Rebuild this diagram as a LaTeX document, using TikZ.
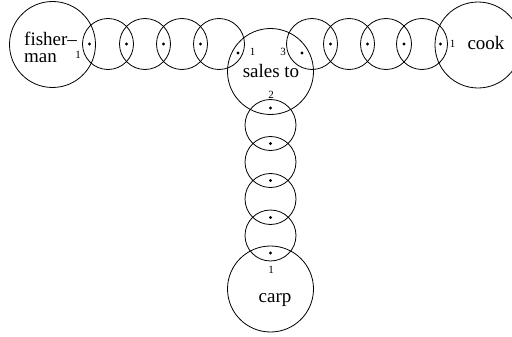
\documentclass[tikz,border=0pt]{standalone}
\usepackage{fontspec}
\setmainfont{Liberation Serif}
\begin{document}
\begin{tikzpicture}[x=1pt,y=-1pt,
  big/.style={circle,draw,line width=0.8pt,minimum size=86pt,inner sep=0pt},
  small/.style={circle,draw,line width=0.8pt,minimum size=51pt,inner sep=0pt},
  dot/.style={circle,fill,inner sep=0pt,minimum size=3.2pt},
  lbl/.style={font=\fontsize{19}{16}\selectfont,inner sep=0pt},
  num/.style={font=\fontsize{11}{13}\selectfont,inner sep=0pt}]
\useasboundingbox (0,0) rectangle (512,337);
% big circles
\node[big] (fisher) at (52.5,44.5) {};
\node[big] (sales) at (270.5,71.5) {};
\node[big] (cook) at (478,45) {};
\node[big] (carp) at (270.5,289) {};
% left chain
\node[small] (l1) at (108,44) {};
\node[small] (l2) at (145,44) {};
\node[small] (l3) at (182,44) {};
\node[small] (l4) at (219,44) {};
% right chain
\node[small] (r1) at (312,44) {};
\node[small] (r2) at (349,44) {};
\node[small] (r3) at (386,44) {};
\node[small] (r4) at (422,44) {};
% vertical chain
\node[small] (v1) at (270.5,125) {};
\node[small] (v2) at (270.5,162) {};
\node[small] (v3) at (270.5,199) {};
\node[small] (v4) at (270.5,235.5) {};
% dots
\node[dot] (dl0) at (89.5,44) {};
\node[dot] (dl1) at (126.5,44) {};
\node[dot] (dl2) at (163.5,44) {};
\node[dot] (dl3) at (200.5,44) {};
\node[dot] (dl4) at (238,53) {};
\node[dot] (dr0) at (302,53) {};
\node[dot] (dr1) at (330.5,44) {};
\node[dot] (dr2) at (367.5,44) {};
\node[dot] (dr3) at (404,44) {};
\node[dot] (dr4) at (440.5,44) {};
\node[dot] (dv0) at (270.5,108) {};
\node[dot] (dv1) at (270.5,143.5) {};
\node[dot] (dv2) at (270.5,180.5) {};
\node[dot] (dv3) at (270.5,217.5) {};
\node[dot] (dv4) at (270.5,253) {};
% texts
\node[lbl,anchor=base west] (fisherA) at (24,45.5) {fisher–};
\node[lbl,anchor=base west] (fisherB) at (24,62.5) {man};
\node[lbl,anchor=base] (salestext) at (271,78) {sales to};
\node[lbl,anchor=base] (cooktext) at (486,50) {cook};
\node[lbl,anchor=base] (carptext) at (275,302) {carp};
% numbers
\node[num] (nf) at (78,55) {1};
\node[num] (ns1) at (252.5,52) {1};
\node[num] (ns3) at (283,52) {3};
\node[num] (ns2) at (271,95) {2};
\node[num] (nc) at (452.5,44) {1};
\node[num] (ncarp) at (271,270) {1};
\end{tikzpicture}
\end{document}
